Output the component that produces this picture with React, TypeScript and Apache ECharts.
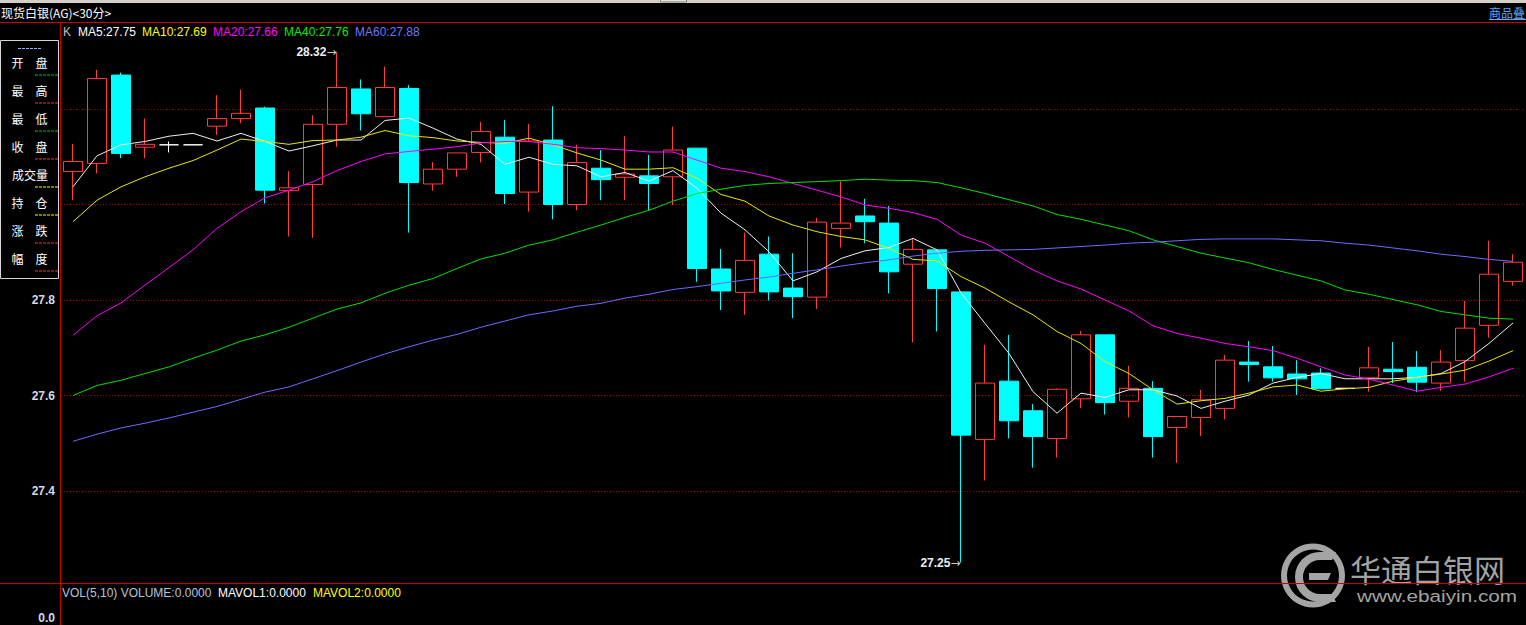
import React, { useEffect, useRef } from "react";
import * as echarts from "echarts";

// ---- data (30-minute bars, silver spot) ----
const opens = [28.069,28.086,28.271,28.120,28.125,28.125,28.164,28.180,28.202,28.029,
  28.042,28.168,28.242,28.184,28.243,28.043,28.074,28.109,28.141,28.026,
  28.135,28.000,28.076,28.057,28.060,28.058,28.118,27.865,27.816,27.896,
  27.825,27.806,27.950,27.976,27.961,27.875,27.905,27.817,27.508,27.630,
  27.568,27.510,27.593,27.727,27.588,27.615,27.533,27.554,27.573,27.670,
  27.660,27.645,27.647,27.615,27.637,27.655,27.659,27.626,27.673,27.747,27.839];
const closes = [28.090,28.264,28.107,28.126,28.125,28.125,28.180,28.191,28.030,28.035,
  28.168,28.245,28.190,28.245,28.046,28.074,28.108,28.153,28.023,28.133,
  28.000,28.088,28.052,28.064,28.044,28.114,27.866,27.819,27.883,27.817,
  27.807,27.963,27.961,27.964,27.859,27.906,27.824,27.517,27.626,27.547,
  27.514,27.613,27.727,27.585,27.615,27.514,27.556,27.591,27.674,27.665,
  27.637,27.635,27.614,27.615,27.658,27.650,27.628,27.670,27.741,27.854,27.879];
const lows = [28.009,28.065,28.097,28.097,28.109,28.125,28.146,28.170,28.002,27.933,
  27.930,28.121,28.155,28.184,27.941,28.029,28.058,28.088,28.001,27.985,
  27.969,27.988,28.009,28.009,27.988,27.999,27.838,27.779,27.769,27.799,
  27.762,27.781,27.910,27.919,27.814,27.711,27.734,27.250,27.422,27.510,
  27.449,27.470,27.574,27.560,27.554,27.470,27.459,27.515,27.550,27.629,
  27.629,27.601,27.614,27.615,27.608,27.626,27.607,27.610,27.629,27.721,27.830];
const highs = [28.127,28.282,28.276,28.180,28.132,28.125,28.229,28.241,28.205,28.070,
  28.187,28.320,28.262,28.289,28.250,28.089,28.108,28.173,28.177,28.169,
  28.206,28.125,28.114,28.143,28.104,28.163,28.118,27.907,27.941,27.933,
  27.898,27.972,28.049,28.012,27.997,27.929,27.905,27.817,27.706,27.727,
  27.582,27.615,27.735,27.727,27.662,27.630,27.556,27.612,27.685,27.714,
  27.704,27.674,27.657,27.615,27.702,27.712,27.693,27.695,27.798,27.924,27.896];

const ma5 = [28.037,28.102,28.125,28.132,28.143,28.149,28.133,28.149,28.132,28.112,
  28.123,28.135,28.135,28.176,28.181,28.160,28.137,28.126,28.084,28.099,
  28.084,28.081,28.058,28.067,28.049,28.071,28.034,27.982,27.947,27.901,
  27.840,27.859,27.887,27.903,27.910,27.929,27.905,27.815,27.751,27.688,
  27.608,27.563,27.605,27.596,27.612,27.612,27.599,27.573,27.588,27.601,
  27.626,27.638,27.646,27.635,27.635,27.635,27.638,27.646,27.671,27.709,27.752];
const ma10 = [27.964,28.009,28.037,28.058,28.076,28.092,28.114,28.137,28.132,28.126,
  28.134,28.135,28.141,28.155,28.144,28.140,28.133,28.130,28.128,28.139,
  28.125,28.108,28.093,28.074,28.074,28.077,28.055,28.021,28.007,27.976,
  27.957,27.943,27.933,27.926,27.908,27.885,27.882,27.849,27.825,27.796,
  27.769,27.734,27.709,27.671,27.646,27.612,27.582,27.589,27.594,27.605,
  27.618,27.622,27.609,27.614,27.617,27.630,27.638,27.645,27.653,27.672,27.694];
const ma20 = [27.726,27.767,27.794,27.831,27.868,27.905,27.950,27.985,28.014,28.030,
  28.048,28.071,28.090,28.106,28.111,28.116,28.121,28.129,28.132,28.132,
  28.126,28.119,28.117,28.114,28.110,28.110,28.093,28.076,28.069,28.058,
  28.044,28.030,28.016,27.999,27.992,27.983,27.969,27.936,27.919,27.891,
  27.863,27.840,27.823,27.800,27.777,27.746,27.730,27.720,27.709,27.702,
  27.694,27.678,27.660,27.643,27.634,27.622,27.609,27.617,27.624,27.639,27.657];
const ma40 = [27.600,27.621,27.632,27.646,27.660,27.678,27.695,27.714,27.727,27.743,
  27.762,27.781,27.794,27.814,27.831,27.845,27.866,27.886,27.898,27.915,
  27.926,27.942,27.957,27.973,27.988,28.007,28.023,28.032,28.040,28.044,
  28.046,28.048,28.050,28.053,28.051,28.050,28.046,28.035,28.023,28.010,
  27.997,27.979,27.969,27.957,27.945,27.926,27.912,27.898,27.888,27.878,
  27.864,27.852,27.840,27.821,27.812,27.801,27.790,27.776,27.769,27.762,27.760];
const ma60 = [27.504,27.519,27.532,27.542,27.553,27.565,27.577,27.592,27.607,27.618,
  27.635,27.652,27.670,27.687,27.702,27.716,27.728,27.743,27.756,27.769,
  27.777,27.787,27.793,27.804,27.812,27.822,27.828,27.835,27.842,27.848,
  27.856,27.863,27.871,27.878,27.884,27.892,27.898,27.902,27.904,27.905,
  27.906,27.909,27.912,27.915,27.919,27.921,27.924,27.927,27.928,27.928,
  27.928,27.926,27.924,27.919,27.915,27.909,27.903,27.896,27.891,27.885,27.881];

const categories = opens.map((_, i) => String(i + 1));
const yTickLabels = ["27.4", "27.6", "27.8"];
const panelLabels = [["开", "盘"], ["最", "高"], ["最", "低"], ["收", "盘"], ["成交量"], ["持", "仓"], ["涨", "跌"], ["幅", "度"]];
const panelLineColors = ["#00d000", "#ff3030", "#00d000", "#ff3030", "#ffff00", "#ffff00", "#ff3030", "#ff3030"];

const RED = "#ff3b3b";
const CYAN = "#00ffff";
const FRAME = "#c80000";
const FONT = "Liberation Sans, Arial, sans-serif";
const CJK = "'Noto Sans CJK SC', sans-serif";

export default function App() {
  const ref = useRef<HTMLDivElement>(null);

  useEffect(() => {
    document.body.style.margin = "0";
    document.body.style.background = "#000";
    const chart = echarts.init(ref.current!, undefined, { renderer: "svg" });

    const candleData = opens.map((o, i) => [o, closes[i], lows[i], highs[i]]);
    const maxHigh = Math.max(...highs);
    const minLow = Math.min(...lows);
    const maxIdx = highs.indexOf(maxHigh);
    const minIdx = lows.indexOf(minLow);
    const last = (a: number[]) => a[a.length - 1].toFixed(2);

    const legendItems = [
      { t: "K", x: 63, c: "#c0c0c0" },
      { t: "MA5:" + last(ma5), x: 78, c: "#ffffff" },
      { t: "MA10:" + last(ma10), x: 142, c: "#ffff00" },
      { t: "MA20:" + last(ma20), x: 213, c: "#ff00ff" },
      { t: "MA40:" + last(ma40), x: 284, c: "#00ee00" },
      { t: "MA60:" + last(ma60), x: 355, c: "#6a78ff" },
    ];

    const graphics: any[] = [];
    // title bar
    graphics.push({ type: "rect", z: 100, shape: { x: 0, y: 0, width: 1526, height: 3 }, style: { fill: "#d4d0c8" } });
    graphics.push({ type: "rect", z: 101, shape: { x: 660.5, y: -1, width: 26, height: 3 }, style: { fill: "#e4e0d8", stroke: "#808080", lineWidth: 1 } });
    graphics.push({ type: "text", z: 100, x: 1, y: 12, style: { text: "现货白银(AG)<30分>", fill: "#ffffff", font: "12px " + CJK, verticalAlign: "middle", textVerticalAlign: "middle" } });
    graphics.push({ type: "text", z: 100, x: 1525, y: 12, style: { text: "商品叠", fill: "#58a8ff", font: "12px " + CJK, textAlign: "right", align: "right", verticalAlign: "middle", textVerticalAlign: "middle" } });
    graphics.push({ type: "line", z: 100, shape: { x1: 1489, y1: 19.5, x2: 1526, y2: 19.5 }, style: { stroke: "#58a8ff", lineWidth: 1 } });
    // legend row
    legendItems.forEach((it) => {
      graphics.push({ type: "text", z: 100, x: it.x, y: 32, style: { text: it.t, fill: it.c, font: "12px " + FONT, verticalAlign: "middle", textVerticalAlign: "middle" } });
    });
    // left info panel
    graphics.push({ type: "rect", z: 100, shape: { x: 0.5, y: 40.5, width: 58, height: 238 }, style: { fill: "#000", stroke: "#d8d8d8", lineWidth: 1 } });
    graphics.push({ type: "line", z: 101, shape: { x1: 18, y1: 48.5, x2: 42, y2: 48.5 }, style: { stroke: "#9fb0ff", lineWidth: 1, lineDash: [3, 1] } });
    panelLabels.forEach((lab, i) => {
      const cy = 62.5 + i * 28;
      if (lab.length === 1) {
        graphics.push({ type: "text", z: 101, x: 30, y: cy, style: { text: lab[0], fill: "#ffffff", font: "12px " + CJK, textAlign: "center", align: "center", verticalAlign: "middle", textVerticalAlign: "middle" } });
      } else {
        graphics.push({ type: "text", z: 101, x: 17.5, y: cy, style: { text: lab[0], fill: "#ffffff", font: "12px " + CJK, textAlign: "center", align: "center", verticalAlign: "middle", textVerticalAlign: "middle" } });
        graphics.push({ type: "text", z: 101, x: 41.5, y: cy, style: { text: lab[1], fill: "#ffffff", font: "12px " + CJK, textAlign: "center", align: "center", verticalAlign: "middle", textVerticalAlign: "middle" } });
      }
      graphics.push({ type: "line", z: 101, shape: { x1: 35, y1: cy + 12.5, x2: 59, y2: cy + 12.5 }, style: { stroke: panelLineColors[i], lineWidth: 1, lineDash: [3, 1] } });
    });
    // volume pane header
    graphics.push({ type: "text", z: 100, x: 62, y: 593, style: { text: "VOL(5,10) VOLUME:0.0000", fill: "#b8c4d8", font: "12px " + FONT, verticalAlign: "middle", textVerticalAlign: "middle" } });
    graphics.push({ type: "text", z: 100, x: 218, y: 593, style: { text: "MAVOL1:0.0000", fill: "#ffffff", font: "12px " + FONT, verticalAlign: "middle", textVerticalAlign: "middle" } });
    graphics.push({ type: "text", z: 100, x: 313, y: 593, style: { text: "MAVOL2:0.0000", fill: "#ffff00", font: "12px " + FONT, verticalAlign: "middle", textVerticalAlign: "middle" } });
    graphics.push({ type: "text", z: 100, x: 55, y: 618, style: { text: "0.0", fill: "#d4dbe8", font: "bold 12px " + FONT, textAlign: "right", align: "right", verticalAlign: "middle", textVerticalAlign: "middle" } });
    // watermark
    const WM = "#a4a4a4";
    graphics.push({ type: "ring", z: 90, shape: { cx: 1313, cy: 575.5, r: 32, r0: 26 }, style: { fill: WM } });
    graphics.push({ type: "arc", z: 90, shape: { cx: 1320, cy: 577, r: 21, startAngle: Math.PI / 2, endAngle: (3 * Math.PI) / 2, clockwise: true }, style: { stroke: WM, lineWidth: 8, fill: "none" } });
    graphics.push({ type: "polygon", z: 90, shape: { points: [[1319, 552], [1336, 552], [1332, 560], [1319, 560]] }, style: { fill: WM } });
    graphics.push({ type: "polygon", z: 90, shape: { points: [[1319, 594], [1332, 594], [1336, 602], [1319, 602]] }, style: { fill: WM } });
    graphics.push({ type: "polygon", z: 90, shape: { points: [[1309, 573], [1331, 573], [1328, 580], [1309, 580]] }, style: { fill: WM } });
    graphics.push({ type: "text", z: 90, x: 1350, y: 568, style: { text: "华通白银网", fill: WM, font: "31px " + CJK, verticalAlign: "middle", textVerticalAlign: "middle" } });
    graphics.push({ type: "text", z: 90, x: 1357, y: 596, scaleX: 1.22, style: { text: "www.ebaiyin.com", fill: WM, font: "17px " + FONT, verticalAlign: "middle", textVerticalAlign: "middle" } });
    // red frame lines
    graphics.push({ type: "line", z: 110, shape: { x1: 0, y1: 22.5, x2: 1526, y2: 22.5 }, style: { stroke: FRAME, lineWidth: 1 } });
    graphics.push({ type: "line", z: 110, shape: { x1: 60.5, y1: 22, x2: 60.5, y2: 625 }, style: { stroke: FRAME, lineWidth: 1 } });
    graphics.push({ type: "line", z: 110, shape: { x1: 0, y1: 583.5, x2: 1526, y2: 583.5 }, style: { stroke: FRAME, lineWidth: 1 } });

    const maSeries = [
      { name: "MA5", data: ma5, color: "#f0f0f0" },
      { name: "MA10", data: ma10, color: "#e8e800" },
      { name: "MA20", data: ma20, color: "#ff00ff" },
      { name: "MA40", data: ma40, color: "#00e000" },
      { name: "MA60", data: ma60, color: "#6c6cff" },
    ].map((s) => ({
      name: s.name,
      type: "line",
      data: s.data,
      showSymbol: false,
      symbol: "none",
      silent: true,
      z: 5,
      lineStyle: { color: s.color, width: 1 },
      itemStyle: { color: s.color },
    }));

    chart.setOption({
      animation: false,
      backgroundColor: "#000",
      grid: { left: 61, width: 1464, top: 13.5, height: 573, containLabel: false },
      xAxis: {
        type: "category",
        data: categories,
        boundaryGap: true,
        axisLine: { show: false },
        axisTick: { show: false },
        axisLabel: { show: false },
        splitLine: { show: false },
      },
      yAxis: {
        type: "value",
        min: 27.2,
        max: 28.4,
        interval: 0.2,
        axisLine: { show: false },
        axisTick: { show: false },
        axisLabel: {
          margin: 6,
          color: "#d4dbe8",
          fontWeight: "bold",
          fontSize: 12,
          fontFamily: FONT,
          formatter: (v: number) => {
            const s = v.toFixed(1);
            return yTickLabels.indexOf(s) >= 0 ? s : "";
          },
        },
        splitLine: {
          show: true,
          showMinLine: false,
          showMaxLine: false,
          lineStyle: { color: "#a00000", width: 1, type: [1, 2] },
        },
      },
      graphic: graphics,
      series: [
        {
          name: "K",
          type: "candlestick",
          data: candleData,
          barWidth: 20,
          silent: true,
          z: 3,
          itemStyle: {
            color: "rgba(0,0,0,0)",
            color0: CYAN,
            borderColor: RED,
            borderColor0: CYAN,
            borderColorDoji: "#ffffff",
            borderWidth: 1,
          },
          markPoint: {
            symbol: "circle",
            symbolSize: 1,
            silent: true,
            itemStyle: { color: "rgba(0,0,0,0)" },
            label: {
              show: true,
              position: "left",
              distance: 0,
              formatter: (p: any) => "{v|" + Number(p.value).toFixed(2) + "}{a|→}",
              rich: {
                v: { color: "#e8eef8", fontWeight: "bold", fontSize: 12, fontFamily: FONT },
                a: { color: "#c8c8c8", fontSize: 12, fontFamily: "DejaVu Sans, sans-serif" },
              },
            },
            data: [
              { coord: [categories[maxIdx], maxHigh], value: maxHigh },
              { coord: [categories[minIdx], minLow], value: minLow },
            ],
          },
        },
        ...maSeries,
      ],
    } as any);

    return () => chart.dispose();
  }, []);

  return (
    <div
      ref={ref}
      style={{ position: "absolute", left: 0, top: 0, width: 1526, height: 625, background: "#000" }}
    />
  );
}
